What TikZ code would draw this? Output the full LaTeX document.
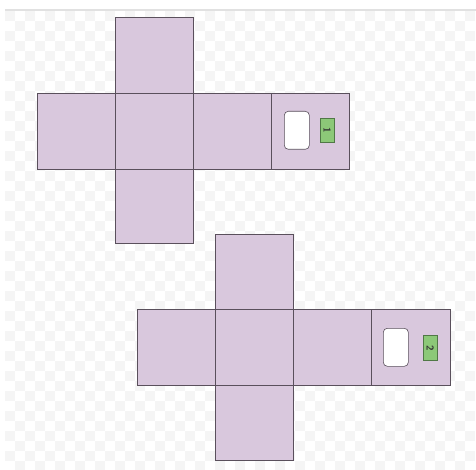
\documentclass[tikz,border=0pt]{standalone}
\usepackage{tikz}
\definecolor{facefill}{RGB}{217,200,221}
\definecolor{faceline}{RGB}{90,80,92}
\definecolor{tagfill}{RGB}{140,200,120}
\definecolor{tagline}{RGB}{80,120,70}
\definecolor{checker}{RGB}{245,245,245}
\definecolor{topline}{RGB}{225,225,225}
\tikzset{
  face/.style={draw=faceline, fill=facefill, line width=0.7pt},
  hole/.style={draw=faceline, fill=white, rounded corners=4pt, line width=0.6pt},
  tag/.style={draw=tagline, fill=tagfill, line width=0.5pt, inner sep=0pt},
  tagtext/.style={font=\sffamily\bfseries\fontsize{10}{10}\selectfont, text=black!80, rotate=-90, inner sep=0pt},
}
\begin{document}
\begin{tikzpicture}[x=1pt,y=-1pt]
\useasboundingbox (0,0) rectangle (476,470);
\fill[white] (0,0) rectangle (476,470);
% checkerboard background
\foreach \i in {0,...,46}{
  \foreach \j in {0,...,45}{
    \pgfmathtruncatemacro{\chk}{mod(\i+\j,2)}
    \ifnum\chk=0
      \fill[checker] ({5+10*\i},{11+10*\j}) rectangle ++(10,10);
    \fi
  }
}
\draw[topline, line width=1.2pt] (5,10) -- (476,10);

% net 1
\node[face, minimum width=78pt, minimum height=76pt, inner sep=0pt, anchor=north west] (t1) at (115,17) {};
\node[face, minimum width=78pt, minimum height=76pt, inner sep=0pt, anchor=north west] (l1) at (37,93) {};
\node[face, minimum width=78pt, minimum height=76pt, inner sep=0pt, anchor=north west] (c1) at (115,93) {};
\node[face, minimum width=78pt, minimum height=76pt, inner sep=0pt, anchor=north west] (r1) at (193,93) {};
\node[face, minimum width=78pt, minimum height=76pt, inner sep=0pt, anchor=north west] (e1) at (271,93) {};
\node[face, minimum width=78pt, minimum height=74pt, inner sep=0pt, anchor=north west] (b1) at (115,169) {};
\node[hole, minimum width=25pt, minimum height=38pt, inner sep=0pt, anchor=north west] (h1) at (284,111) {};
\node[tag, minimum width=14pt, minimum height=24pt, anchor=north west] (g1) at (320,118) {};
\node[tagtext] (n1) at (g1.center) {1};

% net 2
\node[face, minimum width=78pt, minimum height=75pt, inner sep=0pt, anchor=north west] (t2) at (215,234) {};
\node[face, minimum width=78pt, minimum height=76pt, inner sep=0pt, anchor=north west] (l2) at (137,309) {};
\node[face, minimum width=78pt, minimum height=76pt, inner sep=0pt, anchor=north west] (c2) at (215,309) {};
\node[face, minimum width=78pt, minimum height=76pt, inner sep=0pt, anchor=north west] (r2) at (293,309) {};
\node[face, minimum width=79pt, minimum height=76pt, inner sep=0pt, anchor=north west] (e2) at (371,309) {};
\node[face, minimum width=78pt, minimum height=75pt, inner sep=0pt, anchor=north west] (b2) at (215,385) {};
\node[hole, minimum width=25pt, minimum height=38pt, inner sep=0pt, anchor=north west] (h2) at (383,328) {};
\node[tag, minimum width=14pt, minimum height=25pt, anchor=north west] (g2) at (423,335) {};
\node[tagtext] (n2) at (g2.center) {2};
\end{tikzpicture}
\end{document}
